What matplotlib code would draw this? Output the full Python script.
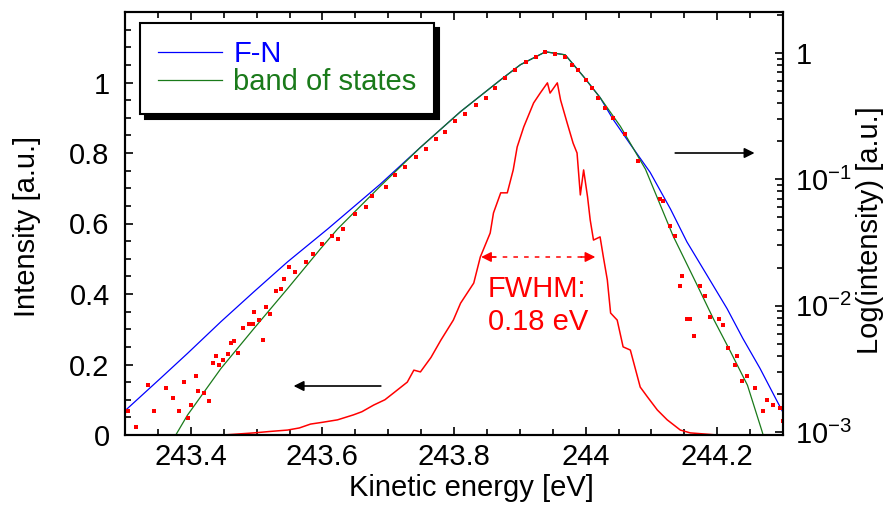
import matplotlib
matplotlib.use('Agg')
import matplotlib.pyplot as plt
import numpy as np
from matplotlib.ticker import MultipleLocator, LogLocator, NullFormatter, FixedLocator, FixedFormatter

plt.rcParams['font.family'] = ['Liberation Sans', 'DejaVu Sans']
plt.rcParams['mathtext.fontset'] = 'custom'
plt.rcParams['mathtext.rm'] = 'Liberation Sans'
plt.rcParams['mathtext.it'] = 'Liberation Sans:italic'
plt.rcParams['mathtext.bf'] = 'Liberation Sans:bold'

FS = 21

# 能量分布（线性轴，左）
e_peak = [243.403, 243.450, 243.496, 243.520, 243.547, 243.565, 243.582, 243.600, 243.623,
          243.647, 243.660, 243.678, 243.695, 243.708, 243.729, 243.739, 243.749, 243.765,
          243.780, 243.799, 243.810, 243.830, 243.840, 243.855, 243.860, 243.871, 243.881,
          243.890, 243.896, 243.906, 243.921, 243.931, 243.942, 243.946, 243.957, 243.962,
          243.972, 243.981, 243.987, 243.992, 243.997, 244.003, 244.007, 244.012, 244.022,
          244.027, 244.033, 244.038, 244.048, 244.057, 244.068, 244.083, 244.094, 244.109,
          244.124, 244.144, 244.159, 244.200, 244.250]
i_peak = [0.0, 0.0, 0.006, 0.010, 0.014, 0.020, 0.031, 0.036, 0.043,
          0.057, 0.066, 0.085, 0.100, 0.119, 0.150, 0.184, 0.179, 0.220,
          0.269, 0.326, 0.374, 0.431, 0.505, 0.573, 0.630, 0.687, 0.687,
          0.752, 0.817, 0.874, 0.942, 0.970, 0.999, 0.970, 0.999, 0.950,
          0.885, 0.828, 0.800, 0.681, 0.752, 0.675, 0.610, 0.553, 0.562,
          0.505, 0.440, 0.346, 0.326, 0.250, 0.241, 0.136, 0.108, 0.071,
          0.043, 0.014, 0.006, 0.0, 0.0]

# F-N 拟合（对数轴，右），log10 值
e_fn = [243.301, 243.354, 243.395, 243.446, 243.496, 243.547, 243.608, 243.688, 243.749,
        243.810, 243.871, 243.901, 243.939, 243.969, 243.997, 244.022, 244.042, 244.068,
        244.098, 244.129, 244.154, 244.185, 244.215, 244.239, 244.265, 244.291, 244.303]
log_fn = [-2.827, -2.575, -2.378, -2.126, -1.890, -1.654, -1.394, -1.039, -0.748,
          -0.465, -0.213, -0.094, 0.008, -0.016, -0.189, -0.354, -0.528, -0.724,
          -0.945, -1.236, -1.496, -1.764, -2.024, -2.260, -2.496, -2.756, -2.874]

# band of states 拟合
e_bos = [243.370, 243.395, 243.446, 243.496, 243.547, 243.597, 243.623, 243.688, 243.749,
         243.810, 243.871, 243.901, 243.939, 243.969, 243.997, 244.022, 244.053, 244.091,
         244.133, 244.170, 244.194, 244.220, 244.246, 244.268, 244.280]
log_bos = [-3.087, -2.866, -2.496, -2.181, -1.866, -1.551, -1.394, -1.055, -0.748,
           -0.465, -0.213, -0.094, 0.008, -0.016, -0.189, -0.354, -0.583, -0.921,
           -1.449, -1.843, -2.102, -2.362, -2.630, -2.992, -3.200]

# 测量数据点（对数轴）
e_dots = [243.304, 243.317, 243.335, 243.344, 243.362, 243.373, 243.382, 243.389, 243.395,
          243.400, 243.408, 243.411, 243.420, 243.427, 243.433, 243.438, 243.443, 243.449,
          243.456, 243.461, 243.465, 243.471, 243.479, 243.488, 243.494, 243.496, 243.503,
          243.509, 243.514, 243.521, 243.529, 243.537, 243.541, 243.549, 243.559, 243.575,
          243.585, 243.600, 243.615, 243.623, 243.632, 243.650, 243.666, 243.676, 243.696,
          243.711, 243.726, 243.742, 243.757, 243.772, 243.787, 243.802, 243.817, 243.833,
          243.848, 243.863, 243.878, 243.893, 243.909, 243.924, 243.939, 243.954, 243.969,
          243.980, 243.989, 244.000, 244.010, 244.019, 244.030, 244.041, 244.060, 244.080,
          244.113, 244.118, 244.129, 244.136, 244.144, 244.147, 244.154, 244.159, 244.164,
          244.174, 244.182, 244.189, 244.202, 244.209, 244.217, 244.227, 244.230, 244.238,
          244.246, 244.258, 244.270, 244.276, 244.285, 244.296, 244.300]
log_dots = [-2.835, -2.961, -2.630, -2.835, -2.654, -2.732, -2.835, -2.606, -2.890,
            -2.787, -2.559, -2.677, -2.693, -2.756, -2.457, -2.402, -2.472, -2.433,
            -2.386, -2.299, -2.283, -2.378, -2.181, -2.142, -2.142, -2.047, -2.110,
            -2.276, -2.008, -2.063, -1.882, -1.866, -1.787, -1.693, -1.732, -1.654,
            -1.591, -1.512, -1.449, -1.472, -1.394, -1.276, -1.220, -1.134, -1.063,
            -0.969, -0.906, -0.827, -0.764, -0.685, -0.630, -0.543, -0.488, -0.409,
            -0.354, -0.276, -0.197, -0.134, -0.071, -0.031, 0.008, -0.008, -0.031,
            -0.094, -0.134, -0.213, -0.276, -0.354, -0.433, -0.512, -0.646, -0.858,
            -1.157, -1.173, -1.370, -1.449, -1.843, -1.764, -2.102, -2.102, -2.244,
            -1.843, -1.921, -2.087, -2.102, -2.157, -2.339, -2.472, -2.402, -2.598,
            -2.559, -2.654, -2.835, -2.748, -2.787, -2.811, -2.913]

x_ticks = [243.4, 243.6, 243.8, 244.0, 244.2]
x_labels = ['243.4', '243.6', '243.8', '244', '244.2']
y_ticks = [0, 0.2, 0.4, 0.6, 0.8, 1.0]
y_labels = ['0', '0.2', '0.4', '0.6', '0.8', '1']
log_ticks = [1e-3, 1e-2, 1e-1, 1.0]
log_labels = ['10$^{-3}$', '10$^{-2}$', '10$^{-1}$', '1']

fwhm = (243.837, 244.019, 0.505)

fig = plt.figure(figsize=(8.88, 5.12), dpi=100)
ax = fig.add_axes([125 / 888, 1 - 435 / 512, 658 / 888, 423 / 512])
ax2 = ax.twinx()

ax.plot(e_peak, i_peak, color='#ff0000', lw=1.1)
ax2.plot(e_fn, 10 ** np.array(log_fn), color='#0000ff', lw=0.9, label='F-N')
ax2.plot(e_bos, 10 ** np.array(log_bos), color='#1a7a1a', lw=0.9, label='band of states')
ax2.plot(e_dots, 10 ** np.array(log_dots), ls='none', marker='s', ms=2.3, mew=0, color='#ff0000')

ax.set_xlim(243.3, 244.3)
ax.set_ylim(0, 1.2)
ax2.set_yscale('log')
ax2.set_ylim(10 ** (-3 - 3 / 127), 10 ** (41 / 127))

ax.xaxis.set_major_locator(FixedLocator(x_ticks))
ax.xaxis.set_major_formatter(FixedFormatter(x_labels))
ax.xaxis.set_minor_locator(MultipleLocator(0.05))
ax.yaxis.set_major_locator(FixedLocator(y_ticks))
ax.yaxis.set_major_formatter(FixedFormatter(y_labels))
ax.yaxis.set_minor_locator(MultipleLocator(0.05))
ax2.yaxis.set_major_locator(FixedLocator(log_ticks))
ax2.yaxis.set_major_formatter(FixedFormatter(log_labels))
ax2.yaxis.set_minor_locator(LogLocator(base=10, subs=np.arange(2, 10), numticks=20))
ax2.yaxis.set_minor_formatter(NullFormatter())

ax.tick_params(which='both', direction='in', top=True, labelsize=FS, width=1.2)
ax.tick_params(which='major', length=6)
ax.tick_params(which='minor', length=4)
ax.tick_params(axis='x', pad=6)
ax.tick_params(axis='y', pad=11)
ax2.tick_params(which='both', direction='in', labelsize=FS, width=1.2, pad=9)
ax2.tick_params(which='major', length=6)
ax2.tick_params(which='minor', length=4)
for a in (ax, ax2):
    for s in a.spines.values():
        s.set_linewidth(1.5)

ax.set_xlabel('Kinetic energy [eV]', fontsize=FS)
ax.xaxis.set_label_coords(0.527, -0.092)
ax.set_ylabel('Intensity [a.u.]', fontsize=FS)
ax.yaxis.set_label_coords(-0.128, 0.494)
ax2.set_ylabel('Log(intensity) [a.u.]', fontsize=FS)
ax2.yaxis.set_label_coords(1.111, 0.485)

# FWHM 标注
ax.plot([fwhm[0] + 0.02, fwhm[1] - 0.02], [fwhm[2], fwhm[2]], ls=(0, (3, 4)), color='#ff0000', lw=1.1)
ax.annotate('', xy=(fwhm[0], fwhm[2]), xytext=(fwhm[0] + 0.03, fwhm[2]),
            arrowprops=dict(arrowstyle='-|>,head_length=0.6,head_width=0.3', color='#ff0000', lw=1.1))
ax.annotate('', xy=(fwhm[1], fwhm[2]), xytext=(fwhm[1] - 0.03, fwhm[2]),
            arrowprops=dict(arrowstyle='-|>,head_length=0.6,head_width=0.3', color='#ff0000', lw=1.1))
ax.text(243.851, 0.391, 'FWHM:', color='#ff0000', fontsize=FS, va='baseline', ha='left')
ax.text(243.851, 0.298, '0.18 eV', color='#ff0000', fontsize=FS, va='baseline', ha='left')

# 指向坐标轴的箭头
ax.annotate('', xy=(243.552, 0.139), xytext=(243.693, 0.139),
            arrowprops=dict(arrowstyle='-|>,head_length=0.6,head_width=0.3', color='black', lw=1.2))
ax.annotate('', xy=(244.261, 0.80), xytext=(244.132, 0.80),
            arrowprops=dict(arrowstyle='-|>,head_length=0.6,head_width=0.3', color='black', lw=1.2))

leg = ax2.legend(loc='upper left', bbox_to_anchor=(15 / 658, 1 - 11 / 423), borderaxespad=0,
                 fontsize=FS, handlelength=2.2, handletextpad=0.4, borderpad=0.6,
                 labelspacing=0.0, fancybox=False, framealpha=1, edgecolor='black',
                 labelcolor='linecolor',
                 shadow={'ox': 3.6, 'oy': -3.6, 'color': 'black', 'alpha': 1})
leg.get_frame().set_linewidth(1.5)

fig.savefig('out.png', dpi=100, facecolor='white')
